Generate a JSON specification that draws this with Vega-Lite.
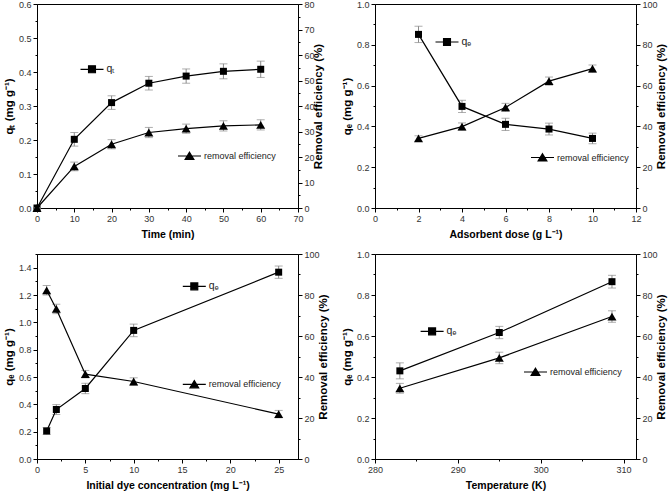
{
  "$schema": "https://vega.github.io/schema/vega-lite/v6.json",
  "autosize": {"type": "none"},
  "padding": {"left": 37, "top": 4, "right": 631, "bottom": 490},
  "background": "white",
  "bounds": "flush",
  "columns": 2,
  "spacing": {"row": 46, "column": 77},
  "datasets": {
    "a": [
      {"t": 0, "q": 0, "qe": 0, "r": 0, "re": 0},
      {"t": 10, "q": 0.202, "qe": 0.02, "r": 16.3, "re": 1.7},
      {"t": 20, "q": 0.31, "qe": 0.02, "r": 25.0, "re": 1.8},
      {"t": 30, "q": 0.367, "qe": 0.02, "r": 29.6, "re": 2.0},
      {"t": 40, "q": 0.388, "qe": 0.021, "r": 31.1, "re": 1.8},
      {"t": 50, "q": 0.402, "qe": 0.022, "r": 32.2, "re": 2.0},
      {"t": 60, "q": 0.408, "qe": 0.024, "r": 32.6, "re": 2.0}
    ],
    "b": [
      {"t": 2, "q": 0.851, "qe": 0.04, "r": 34.1, "re": 1.3},
      {"t": 4, "q": 0.498, "qe": 0.03, "r": 39.9, "re": 1.8},
      {"t": 6, "q": 0.41, "qe": 0.03, "r": 49.3, "re": 2.0},
      {"t": 8, "q": 0.387, "qe": 0.029, "r": 62.2, "re": 2.0},
      {"t": 10, "q": 0.341, "qe": 0.026, "r": 68.3, "re": 1.8}
    ],
    "c": [
      {"t": 1, "q": 0.205, "qe": 0.025, "r": 82.3, "re": 2.3},
      {"t": 2, "q": 0.362, "qe": 0.036, "r": 73.2, "re": 2.3},
      {"t": 5, "q": 0.516, "qe": 0.038, "r": 41.4, "re": 1.8},
      {"t": 10, "q": 0.941, "qe": 0.046, "r": 37.8, "re": 1.8},
      {"t": 25, "q": 1.367, "qe": 0.045, "r": 21.9, "re": 1.8}
    ],
    "d": [
      {"t": 283, "q": 0.43, "qe": 0.039, "r": 34.5, "re": 2.4},
      {"t": 295, "q": 0.617, "qe": 0.03, "r": 49.3, "re": 2.8},
      {"t": 308.6, "q": 0.865, "qe": 0.031, "r": 69.5, "re": 2.8}
    ]
  },
  "concat": [
    {
      "width": 261, "height": 204,
      "data": {"name": "a"},
      "layer": [
        {
          "encoding": {
            "x": {"field": "t", "type": "quantitative", "scale": {"domain": [0, 70], "nice": false, "zero": false},
              "axis": {"title": "Time (min)", "values": [0,5,10,15,20,25,30,35,40,45,50,55,60,65,70], "labelExpr": "datum.value % 10 === 0 ? datum.label : ''", "tickSize": {"condition": {"test": "datum.value % 10 !== 0", "value": 2}, "value": 4}}},
            "y": {"field": "q", "type": "quantitative", "scale": {"domain": [0, 0.6], "nice": false, "zero": false},
              "axis": {"title": "qₜ (mg g⁻¹)", "orient": "left", "format": ".1f", "values": [0,0.05,0.1,0.15,0.2,0.25,0.3,0.35,0.4,0.45,0.5,0.55,0.6], "labelExpr": "abs(datum.value*10 - round(datum.value*10)) < 0.001 ? datum.label : ''", "tickSize": {"condition": {"test": "abs(datum.value*10 - round(datum.value*10)) > 0.001", "value": 2}, "value": 4}}}
          },
          "layer": [
            {"mark": {"type": "errorbar", "ticks": {"size": 8, "color": "#8a8a8a"}, "rule": {"color": "#8a8a8a"}, "thickness": 1}, "encoding": {"yError": {"field": "qe"}}},
            {"mark": {"type": "line", "strokeWidth": 1.2}, "encoding": {"color": {"datum": "qₜ", "type": "nominal", "scale": {"range": ["black"]},
              "legend": {"orient": "none", "legendX": 42.5, "legendY": 52.8, "title": null, "symbolType": "M-1,0H1M-0.3,-0.3H0.3V0.3H-0.3Z", "symbolSize": 529, "symbolStrokeWidth": 1.2, "symbolFillColor": "black", "symbolStrokeColor": "black", "labelOffset": 2, "labelFontSize": 10.5, "padding": 0, "encode": {"symbols": {"update": {"fill": {"value": "black"}, "stroke": {"value": "black"}}}}}}}},
            {"mark": {"type": "point", "shape": "square", "filled": true, "size": 49, "color": "black", "opacity": 1}},
            {"data": {"values": [{}]}, "mark": {"type": "text", "text": "(a)", "align": "right", "baseline": "bottom", "dx": -8, "dy": -5, "fontSize": 12, "fontWeight": "bold", "font": "Liberation Sans", "color": "black"},
              "encoding": {"x": {"datum": 70, "type": "quantitative"}, "y": {"datum": 0, "type": "quantitative"}}}
          ]
        },
        {
          "encoding": {
            "x": {"field": "t", "type": "quantitative", "scale": {"domain": [0, 70], "nice": false, "zero": false},
              "axis": {"title": "Time (min)", "values": [0,5,10,15,20,25,30,35,40,45,50,55,60,65,70], "labelExpr": "datum.value % 10 === 0 ? datum.label : ''", "tickSize": {"condition": {"test": "datum.value % 10 !== 0", "value": 2}, "value": 4}}},
            "y": {"field": "r", "type": "quantitative", "scale": {"domain": [0, 80], "nice": false, "zero": false},
              "axis": {"title": "Removal efficiency (%)", "orient": "right", "titleAngle": 270, "titleBaseline": "middle", "titlePadding": 4, "values": [0,5,10,15,20,25,30,35,40,45,50,55,60,65,70,75,80], "labelExpr": "datum.value % 10 === 0 ? datum.label : ''", "tickSize": {"condition": {"test": "datum.value % 10 !== 0", "value": 2}, "value": 4}}}
          },
          "layer": [
            {"mark": {"type": "errorbar", "ticks": {"size": 8, "color": "#8a8a8a"}, "rule": {"color": "#8a8a8a"}, "thickness": 1}, "encoding": {"yError": {"field": "re"}}},
            {"mark": {"type": "line", "strokeWidth": 1.2}, "encoding": {"color": {"datum": "removal efficiency", "type": "nominal", "scale": {"range": ["black"]},
              "legend": {"orient": "none", "legendX": 140, "legendY": 139.5, "title": null, "symbolType": "M-1,0H1M0,-0.33L0.38,0.3H-0.38Z", "symbolSize": 529, "symbolStrokeWidth": 1.2, "symbolFillColor": "black", "symbolStrokeColor": "black", "labelOffset": 2, "padding": 0, "encode": {"symbols": {"update": {"fill": {"value": "black"}, "stroke": {"value": "black"}}}}}}}},
            {"mark": {"type": "point", "shape": "triangle-up", "filled": true, "size": 81, "color": "black", "opacity": 1}}
          ]
        }
      ],
      "resolve": {"scale": {"y": "independent", "color": "independent"}}
    },
    {
      "width": 261, "height": 204,
      "data": {"name": "b"},
      "layer": [
        {
          "encoding": {
            "x": {"field": "t", "type": "quantitative", "scale": {"domain": [0, 12], "nice": false, "zero": false},
              "axis": {"title": "Adsorbent dose (g L⁻¹)", "values": [0,1,2,3,4,5,6,7,8,9,10,11,12], "labelExpr": "datum.value % 2 === 0 ? datum.label : ''", "tickSize": {"condition": {"test": "datum.value % 2 !== 0", "value": 2}, "value": 4}}},
            "y": {"field": "q", "type": "quantitative", "scale": {"domain": [0, 1.0], "nice": false, "zero": false},
              "axis": {"title": "qₑ (mg g⁻¹)", "orient": "left", "format": ".1f", "values": [0,0.1,0.2,0.3,0.4,0.5,0.6,0.7,0.8,0.9,1.0], "labelExpr": "abs(datum.value*5 - round(datum.value*5)) < 0.001 ? datum.label : ''", "tickSize": {"condition": {"test": "abs(datum.value*5 - round(datum.value*5)) > 0.001", "value": 2}, "value": 4}}}
          },
          "layer": [
            {"mark": {"type": "errorbar", "ticks": {"size": 8, "color": "#8a8a8a"}, "rule": {"color": "#8a8a8a"}, "thickness": 1}, "encoding": {"yError": {"field": "qe"}}},
            {"mark": {"type": "line", "strokeWidth": 1.2}, "encoding": {"color": {"datum": "qₑ", "type": "nominal", "scale": {"range": ["black"]},
              "legend": {"orient": "none", "legendX": 59.5, "legendY": 25.5, "title": null, "symbolType": "M-1,0H1M-0.3,-0.3H0.3V0.3H-0.3Z", "symbolSize": 529, "symbolStrokeWidth": 1.2, "symbolFillColor": "black", "symbolStrokeColor": "black", "labelOffset": 2, "labelFontSize": 10.5, "padding": 0, "encode": {"symbols": {"update": {"fill": {"value": "black"}, "stroke": {"value": "black"}}}}}}}},
            {"mark": {"type": "point", "shape": "square", "filled": true, "size": 49, "color": "black", "opacity": 1}},
            {"data": {"values": [{}]}, "mark": {"type": "text", "text": "(b)", "align": "right", "baseline": "bottom", "dx": -7, "dy": -5, "fontSize": 12, "fontWeight": "bold", "font": "Liberation Sans", "color": "black"},
              "encoding": {"x": {"datum": 12, "type": "quantitative"}, "y": {"datum": 0, "type": "quantitative"}}}
          ]
        },
        {
          "encoding": {
            "x": {"field": "t", "type": "quantitative", "scale": {"domain": [0, 12], "nice": false, "zero": false},
              "axis": {"title": "Adsorbent dose (g L⁻¹)", "values": [0,1,2,3,4,5,6,7,8,9,10,11,12], "labelExpr": "datum.value % 2 === 0 ? datum.label : ''", "tickSize": {"condition": {"test": "datum.value % 2 !== 0", "value": 2}, "value": 4}}},
            "y": {"field": "r", "type": "quantitative", "scale": {"domain": [0, 100], "nice": false, "zero": false},
              "axis": {"title": "Removal efficiency (%)", "orient": "right", "titleAngle": 270, "titleBaseline": "middle", "titlePadding": 4, "values": [0,10,20,30,40,50,60,70,80,90,100], "labelExpr": "datum.value % 20 === 0 ? datum.label : ''", "tickSize": {"condition": {"test": "datum.value % 20 !== 0", "value": 2}, "value": 4}}}
          },
          "layer": [
            {"mark": {"type": "errorbar", "ticks": {"size": 8, "color": "#8a8a8a"}, "rule": {"color": "#8a8a8a"}, "thickness": 1}, "encoding": {"yError": {"field": "re"}}},
            {"mark": {"type": "line", "strokeWidth": 1.2}, "encoding": {"color": {"datum": "removal efficiency", "type": "nominal", "scale": {"range": ["black"]},
              "legend": {"orient": "none", "legendX": 155, "legendY": 141, "title": null, "symbolType": "M-1,0H1M0,-0.33L0.38,0.3H-0.38Z", "symbolSize": 529, "symbolStrokeWidth": 1.2, "symbolFillColor": "black", "symbolStrokeColor": "black", "labelOffset": 2, "padding": 0, "encode": {"symbols": {"update": {"fill": {"value": "black"}, "stroke": {"value": "black"}}}}}}}},
            {"mark": {"type": "point", "shape": "triangle-up", "filled": true, "size": 81, "color": "black", "opacity": 1}}
          ]
        }
      ],
      "resolve": {"scale": {"y": "independent", "color": "independent"}}
    },
    {
      "width": 261, "height": 205,
      "data": {"name": "c"},
      "layer": [
        {
          "encoding": {
            "x": {"field": "t", "type": "quantitative", "scale": {"domain": [0, 27], "nice": false, "zero": false},
              "axis": {"title": "Initial dye concentration (mg L⁻¹)", "values": [0,2.5,5,7.5,10,12.5,15,17.5,20,22.5,25], "labelExpr": "datum.value % 5 === 0 ? datum.label : ''", "tickSize": {"condition": {"test": "datum.value % 5 !== 0", "value": 2}, "value": 4}}},
            "y": {"field": "q", "type": "quantitative", "scale": {"domain": [0, 1.5], "nice": false, "zero": false},
              "axis": {"title": "qₑ (mg g⁻¹)", "orient": "left", "format": ".1f", "values": [0,0.1,0.2,0.3,0.4,0.5,0.6,0.7,0.8,0.9,1.0,1.1,1.2,1.3,1.4,1.5], "labelExpr": "abs(datum.value*5 - round(datum.value*5)) < 0.001 ? datum.label : ''", "tickSize": {"condition": {"test": "abs(datum.value*5 - round(datum.value*5)) > 0.001", "value": 2}, "value": 4}}}
          },
          "layer": [
            {"mark": {"type": "errorbar", "ticks": {"size": 8, "color": "#8a8a8a"}, "rule": {"color": "#8a8a8a"}, "thickness": 1}, "encoding": {"yError": {"field": "qe"}}},
            {"mark": {"type": "line", "strokeWidth": 1.2}, "encoding": {"color": {"datum": "qₑ", "type": "nominal", "scale": {"range": ["black"]},
              "legend": {"orient": "none", "legendX": 144.8, "legendY": 19.9, "title": null, "symbolType": "M-1,0H1M-0.3,-0.3H0.3V0.3H-0.3Z", "symbolSize": 529, "symbolStrokeWidth": 1.2, "symbolFillColor": "black", "symbolStrokeColor": "black", "labelOffset": 2, "labelFontSize": 10.5, "padding": 0, "encode": {"symbols": {"update": {"fill": {"value": "black"}, "stroke": {"value": "black"}}}}}}}},
            {"mark": {"type": "point", "shape": "square", "filled": true, "size": 49, "color": "black", "opacity": 1}},
            {"data": {"values": [{}]}, "mark": {"type": "text", "text": "(c)", "align": "right", "baseline": "bottom", "dx": -6, "dy": -5, "fontSize": 12, "fontWeight": "bold", "font": "Liberation Sans", "color": "black"},
              "encoding": {"x": {"datum": 27, "type": "quantitative"}, "y": {"datum": 0, "type": "quantitative"}}}
          ]
        },
        {
          "encoding": {
            "x": {"field": "t", "type": "quantitative", "scale": {"domain": [0, 27], "nice": false, "zero": false},
              "axis": {"title": "Initial dye concentration (mg L⁻¹)", "values": [0,2.5,5,7.5,10,12.5,15,17.5,20,22.5,25], "labelExpr": "datum.value % 5 === 0 ? datum.label : ''", "tickSize": {"condition": {"test": "datum.value % 5 !== 0", "value": 2}, "value": 4}}},
            "y": {"field": "r", "type": "quantitative", "scale": {"domain": [0, 100], "nice": false, "zero": false},
              "axis": {"title": "Removal efficiency (%)", "orient": "right", "titleAngle": 270, "titleBaseline": "middle", "titlePadding": 4, "values": [0,10,20,30,40,50,60,70,80,90,100], "labelExpr": "datum.value % 20 === 0 ? datum.label : ''", "tickSize": {"condition": {"test": "datum.value % 20 !== 0", "value": 2}, "value": 4}}}
          },
          "layer": [
            {"mark": {"type": "errorbar", "ticks": {"size": 8, "color": "#8a8a8a"}, "rule": {"color": "#8a8a8a"}, "thickness": 1}, "encoding": {"yError": {"field": "re"}}},
            {"mark": {"type": "line", "strokeWidth": 1.2}, "encoding": {"color": {"datum": "removal efficiency", "type": "nominal", "scale": {"range": ["black"]},
              "legend": {"orient": "none", "legendX": 144.8, "legendY": 117.9, "title": null, "symbolType": "M-1,0H1M0,-0.33L0.38,0.3H-0.38Z", "symbolSize": 529, "symbolStrokeWidth": 1.2, "symbolFillColor": "black", "symbolStrokeColor": "black", "labelOffset": 2, "padding": 0, "encode": {"symbols": {"update": {"fill": {"value": "black"}, "stroke": {"value": "black"}}}}}}}},
            {"mark": {"type": "point", "shape": "triangle-up", "filled": true, "size": 81, "color": "black", "opacity": 1}}
          ]
        }
      ],
      "resolve": {"scale": {"y": "independent", "color": "independent"}}
    },
    {
      "width": 261, "height": 205,
      "data": {"name": "d"},
      "layer": [
        {
          "encoding": {
            "x": {"field": "t", "type": "quantitative", "scale": {"domain": [280, 311.5], "nice": false, "zero": false},
              "axis": {"title": "Temperature (K)", "values": [280,285,290,295,300,305,310], "labelExpr": "datum.value % 10 === 0 ? datum.label : ''", "tickSize": {"condition": {"test": "datum.value % 10 !== 0", "value": 2}, "value": 4}}},
            "y": {"field": "q", "type": "quantitative", "scale": {"domain": [0, 1.0], "nice": false, "zero": false},
              "axis": {"title": "qₑ (mg g⁻¹)", "orient": "left", "format": ".1f", "values": [0,0.1,0.2,0.3,0.4,0.5,0.6,0.7,0.8,0.9,1.0], "labelExpr": "abs(datum.value*5 - round(datum.value*5)) < 0.001 ? datum.label : ''", "tickSize": {"condition": {"test": "abs(datum.value*5 - round(datum.value*5)) > 0.001", "value": 2}, "value": 4}}}
          },
          "layer": [
            {"mark": {"type": "errorbar", "ticks": {"size": 8, "color": "#8a8a8a"}, "rule": {"color": "#8a8a8a"}, "thickness": 1}, "encoding": {"yError": {"field": "qe"}}},
            {"mark": {"type": "line", "strokeWidth": 1.2}, "encoding": {"color": {"datum": "qₑ", "type": "nominal", "scale": {"range": ["black"]},
              "legend": {"orient": "none", "legendX": 44.6, "legendY": 64.9, "title": null, "symbolType": "M-1,0H1M-0.3,-0.3H0.3V0.3H-0.3Z", "symbolSize": 529, "symbolStrokeWidth": 1.2, "symbolFillColor": "black", "symbolStrokeColor": "black", "labelOffset": 2, "labelFontSize": 10.5, "padding": 0, "encode": {"symbols": {"update": {"fill": {"value": "black"}, "stroke": {"value": "black"}}}}}}}},
            {"mark": {"type": "point", "shape": "square", "filled": true, "size": 49, "color": "black", "opacity": 1}},
            {"data": {"values": [{}]}, "mark": {"type": "text", "text": "(d)", "align": "right", "baseline": "bottom", "dx": -13, "dy": -5, "fontSize": 12, "fontWeight": "bold", "font": "Liberation Sans", "color": "black"},
              "encoding": {"x": {"datum": 311.5, "type": "quantitative"}, "y": {"datum": 0, "type": "quantitative"}}}
          ]
        },
        {
          "encoding": {
            "x": {"field": "t", "type": "quantitative", "scale": {"domain": [280, 311.5], "nice": false, "zero": false},
              "axis": {"title": "Temperature (K)", "values": [280,285,290,295,300,305,310], "labelExpr": "datum.value % 10 === 0 ? datum.label : ''", "tickSize": {"condition": {"test": "datum.value % 10 !== 0", "value": 2}, "value": 4}}},
            "y": {"field": "r", "type": "quantitative", "scale": {"domain": [0, 100], "nice": false, "zero": false},
              "axis": {"title": "Removal efficiency (%)", "orient": "right", "titleAngle": 270, "titleBaseline": "middle", "titlePadding": 4, "values": [0,10,20,30,40,50,60,70,80,90,100], "labelExpr": "datum.value % 20 === 0 ? datum.label : ''", "tickSize": {"condition": {"test": "datum.value % 20 !== 0", "value": 2}, "value": 4}}}
          },
          "layer": [
            {"mark": {"type": "errorbar", "ticks": {"size": 8, "color": "#8a8a8a"}, "rule": {"color": "#8a8a8a"}, "thickness": 1}, "encoding": {"yError": {"field": "re"}}},
            {"mark": {"type": "line", "strokeWidth": 1.2}, "encoding": {"color": {"datum": "removal efficiency", "type": "nominal", "scale": {"range": ["black"]},
              "legend": {"orient": "none", "legendX": 148, "legendY": 105.5, "title": null, "symbolType": "M-1,0H1M0,-0.33L0.38,0.3H-0.38Z", "symbolSize": 529, "symbolStrokeWidth": 1.2, "symbolFillColor": "black", "symbolStrokeColor": "black", "labelOffset": 2, "padding": 0, "encode": {"symbols": {"update": {"fill": {"value": "black"}, "stroke": {"value": "black"}}}}}}}},
            {"mark": {"type": "point", "shape": "triangle-up", "filled": true, "size": 81, "color": "black", "opacity": 1}}
          ]
        }
      ],
      "resolve": {"scale": {"y": "independent", "color": "independent"}}
    }
  ],
  "resolve": {"scale": {"color": "independent"}},
  "config": {
    "font": "Liberation Sans",
    "view": {"stroke": "black", "strokeWidth": 1},
    "axis": {
      "labelFont": "Liberation Sans", "labelFontSize": 9, "labelColor": "#333",
      "titleFont": "Liberation Sans", "titleFontSize": 10.5, "titleFontWeight": "bold", "titleColor": "black",
      "domainColor": "black", "tickColor": "black", "grid": false, "labelFlush": false, "labelOverlap": false,
      "labelPadding": 2, "titlePadding": 6
    },
    "axisY": {"titleFontSize": 11.5, "titlePadding": 4},
    "legend": {"labelFont": "Liberation Sans", "labelFontSize": 9, "labelColor": "#222"}
  }
}
